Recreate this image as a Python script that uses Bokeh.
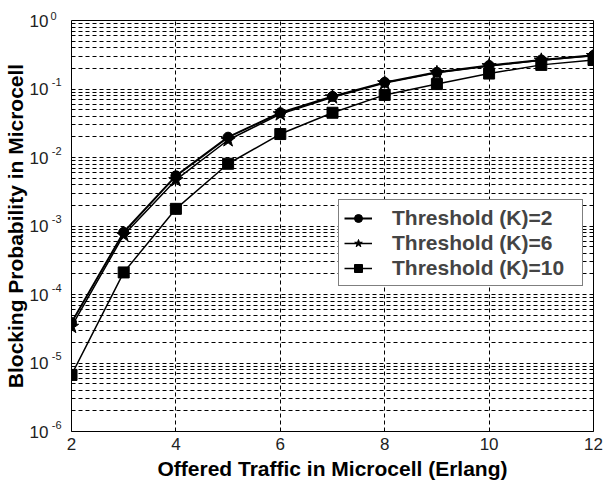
import math
from bokeh.plotting import figure
from bokeh.models import (Range1d, FixedTicker, CustomJSTickFormatter, Legend, LegendItem,
                          LinearAxis, LinearScale)
from bokeh.embed import file_html
from bokeh.resources import INLINE

# ---- data ----
traffic = [2, 3, 4, 5, 6, 7, 8, 9, 10, 11, 12]
k2 = [3.9e-5, 8.1e-4, 5.4e-3, 1.98e-2, 4.5e-2, 7.8e-2, 0.125, 0.175, 0.22, 0.265, 0.31]
k6 = [3.4e-5, 7.4e-4, 4.7e-3, 1.8e-2, 4.3e-2, 7.6e-2, 0.122, 0.172, 0.217, 0.262, 0.305]
k10 = [6.7e-6, 2.1e-4, 1.78e-3, 8.1e-3, 2.2e-2, 4.5e-2, 0.082, 0.118, 0.168, 0.225, 0.265]
labels = ["Threshold (K)=2", "Threshold (K)=6", "Threshold (K)=10"]
x_ticks = [2, 4, 6, 8, 10, 12]
y_ticks = [1e-6, 1e-5, 1e-4, 1e-3, 1e-2, 1e-1, 1e0]
y_tick_base = "10"
y_tick_exponents = ["-6", "-5", "-4", "-3", "-2", "-1", "0"]
x_title = "Offered Traffic in Microcell (Erlang)"
y_title = "Blocking Probability in Microcell"

FONT = "Liberation Sans"
SUP_SHIFT = 0.1  # superscript raise, in decades (style only)
PAD = 0.002

p = figure(width=603, height=486, y_axis_type="log",
           x_range=Range1d(2, 12), y_range=Range1d(y_ticks[0], y_ticks[-1]),
           output_backend="svg", toolbar_location=None,
           min_border_left=71, min_border_right=10,
           min_border_top=20, min_border_bottom=55)

p.outline_line_color = "black"
p.outline_line_width = 1
p.background_fill_color = "white"

minor = [m * t for t in y_ticks[:-1] for m in range(2, 10)]
p.yaxis.ticker = FixedTicker(ticks=y_ticks, minor_ticks=minor)
p.xaxis.ticker = FixedTicker(ticks=x_ticks)
p.yaxis.formatter = CustomJSTickFormatter(args=dict(base=y_tick_base), code="return base;")

# exponent axis (superscripts), nearest to the frame, on a log10 linear range raised slightly
log_lo = math.log10(y_ticks[0])
log_hi = math.log10(y_ticks[-1])
p.extra_y_ranges = {"exp": Range1d(log_lo - SUP_SHIFT - PAD, log_hi - SUP_SHIFT + PAD)}
p.extra_y_scales = {"exp": LinearScale()}
exp_axis = LinearAxis(y_range_name="exp",
                      ticker=FixedTicker(ticks=[math.log10(t) for t in y_ticks]),
                      formatter=CustomJSTickFormatter(args=dict(exps=y_tick_exponents),
                                                      code="return exps[Math.round(tick) + 6];"),
                      bounds=(log_lo, log_hi))
exp_axis.major_label_text_font = FONT
exp_axis.major_label_text_font_size = "11px"
exp_axis.major_label_text_color = "#222222"
exp_axis.major_label_standoff = 10
exp_axis.axis_line_color = None
exp_axis.major_tick_line_color = None
exp_axis.minor_tick_line_color = None
exp_axis.major_tick_in = 0
exp_axis.major_tick_out = 0
exp_axis.minor_tick_in = 0
exp_axis.minor_tick_out = 0
p.left = [exp_axis] + list(p.left)

# the top exponent sits above the frame: shown as the (left-aligned) title text
p.title.text = y_tick_exponents[-1]
p.title.align = "left"
p.title.offset = -21
p.title.standoff = 2
p.title.text_font = FONT
p.title.text_font_size = "11px"
p.title.text_font_style = "normal"
p.title.text_color = "#222222"

main_y = [a for a in p.left if a is not exp_axis][0]
xax = p.below[0]
for ax in (xax, main_y):
    ax.major_tick_in = 0
    ax.major_tick_out = 0
    ax.minor_tick_in = 0
    ax.minor_tick_out = 0
    ax.major_label_text_font = FONT
    ax.major_label_text_font_size = "17px"
    ax.major_label_text_color = "#222222"
    ax.axis_label_text_font = FONT
    ax.axis_label_text_font_style = "bold"
    ax.axis_label_text_font_size = "21px"
    ax.axis_label_text_color = "black"

xax.axis_line_color = "black"
main_y.axis_line_color = None
xax.axis_label = x_title
main_y.axis_label = y_title
xax.major_label_standoff = 6
xax.axis_label_standoff = 4
main_y.major_label_standoff = 0
main_y.axis_label_standoff = 0

p.xgrid.grid_line_color = "black"
p.xgrid.grid_line_dash = "4 3"
p.xgrid.grid_line_width = 1
p.ygrid.grid_line_color = "black"
p.ygrid.grid_line_dash = "4 3"
p.ygrid.minor_grid_line_color = "black"
p.ygrid.minor_grid_line_dash = "4 3"

l1 = p.line(traffic, k2, line_color="black", line_width=2)
m1 = p.scatter(traffic, k2, marker="circle", size=10, fill_color="black", line_color="black")
l2 = p.line(traffic, k6, line_color="black", line_width=1.5)
m2 = p.scatter(traffic, k6, marker="star", size=15, fill_color="black", line_color="black")
l3 = p.line(traffic, k10, line_color="black", line_width=1.5)
m3 = p.scatter(traffic, k10, marker="square", size=11, fill_color="black", line_color="black")

legend = Legend(items=[LegendItem(label=labels[0], renderers=[l1, m1]),
                       LegendItem(label=labels[1], renderers=[l2, m2]),
                       LegendItem(label=labels[2], renderers=[l3, m3])],
                location=(267, 145), margin=0, padding=5, spacing=0,
                label_height=25, glyph_height=20, glyph_width=28,
                label_standoff=20, label_width=185,
                label_text_font=FONT, label_text_font_style="bold",
                label_text_font_size="21px",
                border_line_color="black", border_line_width=1,
                background_fill_color="white", background_fill_alpha=1)
p.add_layout(legend, "center")

open("out.html", "w").write(file_html(p, INLINE))
